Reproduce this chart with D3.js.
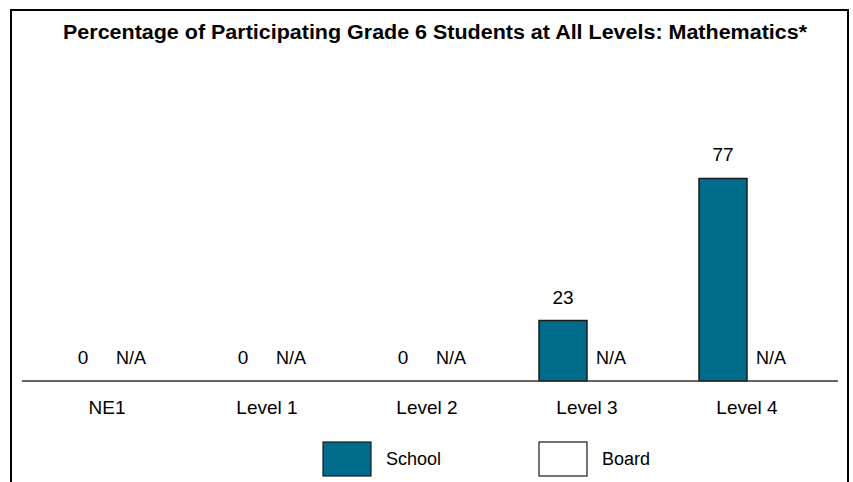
<!DOCTYPE html>
<html>
<head>
<meta charset="utf-8">
<script src="https://cdn.jsdelivr.net/npm/d3@7"></script>
<style>
  html, body { margin: 0; padding: 0; background: #fff; }
  svg { display: block; font-family: "Liberation Sans", Arial, sans-serif; }
</style>
</head>
<body>
<svg id="chart" width="853" height="482"></svg>
<script>
const title = "Percentage of Participating Grade 6 Students at All Levels: Mathematics*";
const categories = ["NE1", "Level 1", "Level 2", "Level 3", "Level 4"];
const series = ["School", "Board"];
const schoolValues = [0, 0, 0, 23, 77];
const boardValues = [null, null, null, null, null]; // N/A
const seriesColors = ["#006c8c", "#ffffff"];

const svg = d3.select("#chart");
const W = 853, H = 482;

// frame (open at bottom)
svg.append("path")
  .attr("d", `M11,${H} L11,10 L848,10 L848,${H}`)
  .attr("fill", "none").attr("stroke", "#000").attr("stroke-width", 2);

// title
svg.append("text")
  .attr("x", 435).attr("y", 39)
  .attr("text-anchor", "middle")
  .attr("font-weight", "bold")
  .attr("font-size", 20)
  .attr("textLength", 744)
  .attr("lengthAdjust", "spacingAndGlyphs")
  .text(title);

const baseY = 381;
const x = d3.scaleBand().domain(categories).range([27, 827]).paddingInner(0.4).paddingOuter(0.2);
const xs = d3.scaleBand().domain(series).range([0, x.bandwidth()]);
const y = d3.scaleLinear().domain([0, 100]).range([baseY, baseY - 263]);

const data = categories.map((c, i) => ({
  cat: c,
  vals: [{ s: "School", v: schoolValues[i] }, { s: "Board", v: boardValues[i] }]
}));

const g = svg.append("g");
const groups = g.selectAll("g.grp").data(data).join("g")
  .attr("class", "grp")
  .attr("transform", d => `translate(${x(d.cat)},0)`);

groups.selectAll("rect").data(d => d.vals.filter(e => e.v != null && e.v > 0)).join("rect")
  .attr("x", e => xs(e.s))
  .attr("y", e => y(e.v))
  .attr("width", xs.bandwidth())
  .attr("height", e => y(0) - y(e.v))
  .attr("fill", e => seriesColors[series.indexOf(e.s)])
  .attr("stroke", "#1a1a1a").attr("stroke-width", 1.5);

groups.selectAll("text.val").data(d => d.vals).join("text")
  .attr("class", "val")
  .attr("x", e => xs(e.s) + xs.bandwidth() / 2)
  .attr("y", e => y(e.v == null ? 0 : e.v) - 17)
  .attr("text-anchor", "middle")
  .attr("font-size", e => e.v == null ? 18 : 19)
  .attr("fill", "#000")
  .text(e => e.v == null ? "N/A" : e.v);

// axis baseline
svg.append("line")
  .attr("x1", 22).attr("x2", 838).attr("y1", baseY).attr("y2", baseY)
  .attr("stroke", "#333").attr("stroke-width", 1.5);

// category labels via axis
const axis = d3.axisBottom(x).tickSize(0).tickPadding(0);
const ax = svg.append("g").attr("transform", `translate(0,${baseY})`).call(axis);
ax.select(".domain").remove();
ax.selectAll("text")
  .attr("font-size", 19)
  .attr("font-family", "'Liberation Sans', Arial, sans-serif")
  .attr("fill", "#000")
  .attr("dy", 0).attr("y", 33);

// legend
const legendX = [323, 539];
const leg = svg.append("g").selectAll("g").data(series).join("g")
  .attr("transform", (d, i) => `translate(${legendX[i]},442)`);
leg.append("rect").attr("width", 48).attr("height", 34)
  .attr("fill", (d, i) => seriesColors[i])
  .attr("stroke", "#1a1a1a").attr("stroke-width", 1.2);
leg.append("text").attr("x", 63).attr("y", 23)
  .attr("font-size", 18).attr("fill", "#000").text(d => d);
</script>
</body>
</html>
